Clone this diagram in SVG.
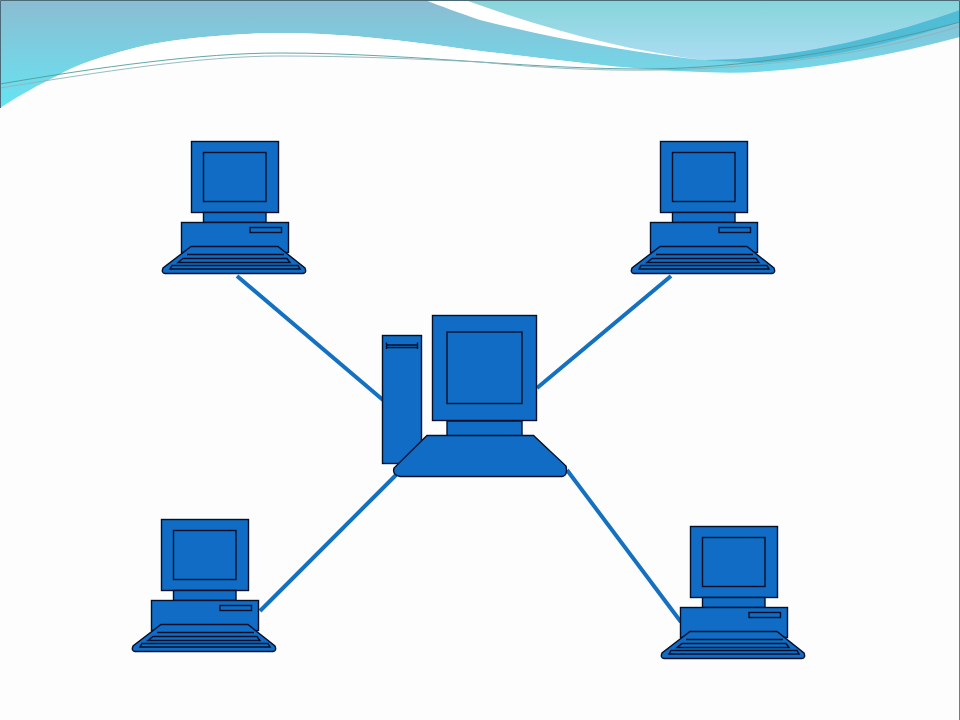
<svg xmlns="http://www.w3.org/2000/svg" width="960" height="720" viewBox="0 0 960 720">
<style>
.s{fill:#106cc4;stroke:#04102a;stroke-width:1.4}
.k{fill:none;stroke:#04102a;stroke-width:1.4}
.c{stroke:#1470c0;stroke-width:4;fill:none}
.t{fill:none;stroke-width:.9}
</style>
<defs>
<linearGradient id="b" x1="0" y1="0" x2="0" y2="1"><stop offset="0" stop-color="#8cbcd2"/><stop offset="1" stop-color="#66e4f2"/></linearGradient>
<linearGradient id="l" x1="0" y1="0" x2="0" y2="1"><stop offset="0" stop-color="#86d5da"/><stop offset="1" stop-color="#aadcf2"/></linearGradient>
<g id="pc">
<rect class="s" x="191.5" y="141.5" width="87" height="71"/>
<rect class="s" x="203.5" y="152.5" width="62.500" height="49"/>
<rect class="s" x="203.500" y="212.500" width="62.500" height="10"/>
<rect class="s" x="181.500" y="222.500" width="107" height="30"/>
<rect class="s" x="250" y="227.500" width="31.500" height="5"/>
<path class="s" d="M191 246.500H278L305 268Q307 273 303 273.500H165Q161 273 163 268Z"/>
<path class="k" d="M187 254.500H284M183 258.500H287L290 262.500H178ZM172 265.500H298L300 269H170Z"/>
</g>
</defs>
<rect width="960" height="720" fill="#fdfdfd"/>
<g id="background">
<path fill="url(#b)" d="M0 0H960V37C880 58 800 72 730 72.700C640 72 560 60 480 51C420 43 350 33 283 33C230 33 160 40 127 50C85 60 35 85 0 108Z"/>
<path fill="url(#l)" d="M465 0H960V10C870 42 780 60 705 60C620 50 540 27 465 0Z"/>
<path fill="#fff" d="M425 0H465C540 27 620 50 708 60.500C640 54 560 40 480 20C460 13 440 6 425 0Z"/>
<path fill="#fff" d="M480 51C560 60 600 65 640 70C580 69 530 65 480 62C420 58 350 53 283 53C200 54 120 66 55 77C80 62 105 56 127 50C160 40 230 33 283 33C350 33 420 43 480 51Z"/>
<path fill="#50bcd6" d="M705 60C780 60 870 42 960 10V22C890 44 830 58 760 63C740 62 720 61 705 60Z"/>
<path class="t" stroke="#4f9c9c" d="M0 84C100 67 200 53 280 53C350 53 420 58 480 62C540 66 590 69 650 69C740 68 850 52 960 22"/>
<path class="t" stroke="#8fb3bb" d="M0 88C100 72 200 56 280 56C350 56 420 59 480 62C540 68 600 71 660 70C760 68 870 55 960 26"/>
<path fill="none" stroke="#4a6a78" d="M.5 108V.5H959.500V37"/>
<path fill="none" stroke="#7a7a7a" d="M959.500 37V720"/>
</g>
<g id="connectors">
<path class="c" d="M237 276L383 400"/>
<path class="c" d="M671 276L537 388"/>
<path class="c" d="M396 475L260 611"/>
<path class="c" d="M567 470L681 622"/>
</g>
<g id="pc-top-left"><use href="#pc"/></g>
<g id="pc-top-right"><use href="#pc" x="469"/></g>
<g id="pc-bottom-left"><use href="#pc" x="-30" y="378"/></g>
<g id="pc-bottom-right"><use href="#pc" x="499" y="385"/></g>
<g id="server">
<rect class="s" x="382.500" y="335.500" width="39" height="128"/>
<path class="k" d="M386.500 345H417.500M386.500 347.500H417.500M386.500 342.500V349M417.500 342.500V349"/>
<rect class="s" x="432.500" y="315.500" width="104" height="105"/>
<rect class="s" x="447" y="332" width="75" height="71.500"/>
<rect x="447" y="421" width="75" height="15" class="s"/>
<path class="s" d="M427 435.500H533.500L566 466Q568 476 562 476.500H400Q392 475 394 468Z"/>
</g>
</svg>
